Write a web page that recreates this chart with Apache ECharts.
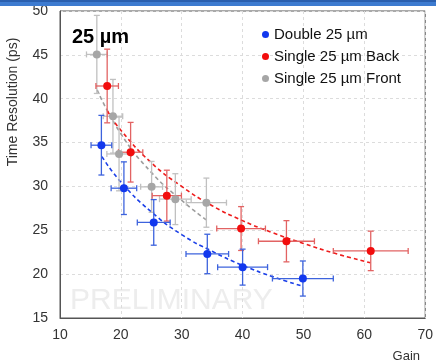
<!DOCTYPE html>
<html>
<head>
<meta charset="utf-8">
<script src="https://cdn.jsdelivr.net/npm/echarts@6/dist/echarts.min.js"></script>
<style>
  html, body { margin: 0; padding: 0; background: #fff; }
  #chart { width: 436px; height: 362px; }
</style>
</head>
<body>
<div id="chart"></div>
<script>
// Double 25 µm
var doubleGain = [16.8, 20.5, 25.4, 34.2, 40.0, 49.9];
var doubleRes = [34.7, 29.8, 25.9, 22.3, 20.8, 19.5];
var doubleGainErr = [1.7, 2.1, 2.7, 3.5, 4.1, 5.0];
var doubleResErr = [3.4, 3.0, 2.6, 2.25, 2.05, 2.0];

// Single 25 µm Back
var backGain = [17.75, 21.6, 27.55, 39.75, 47.2, 61.05];
var backRes = [41.45, 33.9, 28.95, 25.2, 23.75, 22.65];
var backGainErr = [1.85, 2.0, 2.4, 4.0, 4.6, 6.15];
var backResErr = [4.2, 3.4, 2.9, 2.5, 2.35, 2.25];

// Single 25 µm Front
var frontGain = [16.05, 18.7, 19.7, 25.05, 28.95, 34.05];
var frontRes = [45.05, 38.0, 33.7, 29.95, 28.55, 28.15];
var frontGainErr = [1.7, 1.6, 2.0, 1.8, 2.6, 3.3];
var frontResErr = [4.45, 4.2, 4.2, 2.9, 2.9, 2.8];

// Dashed fit curves
var doubleFitGain = [16.9, 20, 25, 30, 35, 40, 45, 50];
var doubleFitRes = [33.4, 30.5, 27.1, 24.5, 22.6, 21.0, 19.7, 18.6];
var backFitGain = [17.8, 20, 25, 30, 35, 40, 45, 50, 55, 61];
var backFitRes = [38.6, 36.4, 32.7, 30.0, 27.8, 26.1, 24.7, 23.5, 22.4, 21.3];
var frontFitGain = [16.1, 20, 25, 30, 34];
var frontFitRes = [41.0, 36.0, 31.6, 28.4, 26.2];

var seriesNames = ['Double 25 µm', 'Single 25 µm Back', 'Single 25 µm Front'];
var xTicks = [10, 20, 30, 40, 50, 60, 70];
var yTicks = [15, 20, 25, 30, 35, 40, 45, 50];

var FONT = 'Liberation Sans, Arial, Helvetica, sans-serif';

function zip(xs, ys) {
  return xs.map(function (x, i) { return [x, ys[i]]; });
}
function zipErr(xs, ys, xe, ye) {
  return xs.map(function (x, i) { return [x, ys[i], xe[i], ye[i]]; });
}

function errorBars(color) {
  return function (params, api) {
    var x = api.value(0), y = api.value(1), dx = api.value(2), dy = api.value(3);
    var l = api.coord([x - dx, y]);
    var r = api.coord([x + dx, y]);
    var t = api.coord([x, y + dy]);
    var b = api.coord([x, y - dy]);
    var cap = 3;
    var style = { stroke: color, lineWidth: 1.3, fill: null };
    return {
      type: 'group',
      children: [
        { type: 'line', shape: { x1: l[0], y1: l[1], x2: r[0], y2: r[1] }, style: style },
        { type: 'line', shape: { x1: t[0], y1: t[1], x2: b[0], y2: b[1] }, style: style },
        { type: 'line', shape: { x1: l[0], y1: l[1] - cap, x2: l[0], y2: l[1] + cap }, style: style },
        { type: 'line', shape: { x1: r[0], y1: r[1] - cap, x2: r[0], y2: r[1] + cap }, style: style },
        { type: 'line', shape: { x1: t[0] - cap, y1: t[1], x2: t[0] + cap, y2: t[1] }, style: style },
        { type: 'line', shape: { x1: b[0] - cap, y1: b[1], x2: b[0] + cap, y2: b[1] }, style: style }
      ]
    };
  };
}

function fitLine(data, color) {
  return {
    type: 'line', data: data, smooth: true, symbol: 'none', silent: true,
    lineStyle: { color: color, width: 1.6, type: [4, 3] }, z: 2
  };
}
function errSeries(data, color) {
  return {
    type: 'custom', data: data, renderItem: errorBars(color), silent: true, z: 3,
    encode: { x: 0, y: 1 }
  };
}
function points(name, data, color) {
  return {
    type: 'scatter', name: name, data: data, symbol: 'circle', symbolSize: 8,
    itemStyle: { color: color, opacity: 1 }, z: 4
  };
}

var COL = {
  blue: '#1238ee', blueBar: '#3d63dd',
  red: '#f20d0d', redBar: '#e26363',
  gray: '#a6a6a6', grayBar: '#c0c0c0'
};

var chart = echarts.init(document.getElementById('chart'), null, { renderer: 'canvas' });
chart.setOption({
  animation: false,
  backgroundColor: '#fff',
  grid: { left: 60, right: 9, top: 11, bottom: 44, show: true, borderColor: '#555', borderWidth: 1 },
  xAxis: {
    type: 'value', min: xTicks[0], max: xTicks[xTicks.length - 1], interval: 10,
    axisLine: { show: true, lineStyle: { color: '#555' } },
    axisTick: { show: false },
    axisLabel: { fontFamily: FONT, fontSize: 14, color: '#333', margin: 10 },
    splitLine: { show: true, lineStyle: { color: '#dcdcdc', type: [3, 3] } }
  },
  yAxis: {
    type: 'value', min: yTicks[0], max: yTicks[yTicks.length - 1], interval: 5,
    axisLine: { show: true, lineStyle: { color: '#555' } },
    axisTick: { show: false },
    axisLabel: { fontFamily: FONT, fontSize: 14, color: '#333', margin: 12 },
    splitLine: { show: true, lineStyle: { color: '#dcdcdc', type: [3, 3] } }
  },
  legend: {
    data: seriesNames, orient: 'vertical', left: 257, top: 22,
    itemWidth: 7, itemHeight: 7, itemGap: 7, icon: 'circle',
    textStyle: { fontFamily: FONT, fontSize: 15, color: '#111' }
  },
  graphic: [
    { type: 'rect', left: 0, top: 0, shape: { width: 436, height: 6 }, style: { fill: '#3d7bd0' }, z: 10 },
    { type: 'rect', left: 0, top: 0, shape: { width: 436, height: 2 }, style: { fill: '#2a5fae' }, z: 11 },
    {
      type: 'text', x: 13, y: 102, rotation: Math.PI / 2,
      style: { text: 'Time Resolution (ps)', fontFamily: FONT, fontSize: 14, fill: '#333', textAlign: 'center', textVerticalAlign: 'middle' }
    },
    {
      type: 'text', x: 420, y: 356,
      style: { text: 'Gain', fontFamily: FONT, fontSize: 13, fill: '#333', textAlign: 'right', textVerticalAlign: 'middle' }
    },
    {
      type: 'text', x: 72, y: 37,
      style: { text: '25 µm', fontFamily: FONT, fontSize: 20, fontWeight: 'bold', fill: '#000', textAlign: 'left', textVerticalAlign: 'middle' }
    },
    {
      type: 'text', x: 70, y: 301, z: 0,
      style: { text: 'PRELIMINARY', fontFamily: FONT, fontSize: 30, fill: '#ededed', textAlign: 'left', textVerticalAlign: 'middle' }
    }
  ],
  series: [
    fitLine(zip(frontFitGain, frontFitRes), '#9e9e9e'),
    fitLine(zip(backFitGain, backFitRes), '#ee1c1c'),
    fitLine(zip(doubleFitGain, doubleFitRes), '#1a3fe8'),
    errSeries(zipErr(frontGain, frontRes, frontGainErr, frontResErr), COL.grayBar),
    points(seriesNames[2], zip(frontGain, frontRes), COL.gray),
    errSeries(zipErr(backGain, backRes, backGainErr, backResErr), COL.redBar),
    points(seriesNames[1], zip(backGain, backRes), COL.red),
    errSeries(zipErr(doubleGain, doubleRes, doubleGainErr, doubleResErr), COL.blueBar),
    points(seriesNames[0], zip(doubleGain, doubleRes), COL.blue)
  ]
});
</script>
</body>
</html>
